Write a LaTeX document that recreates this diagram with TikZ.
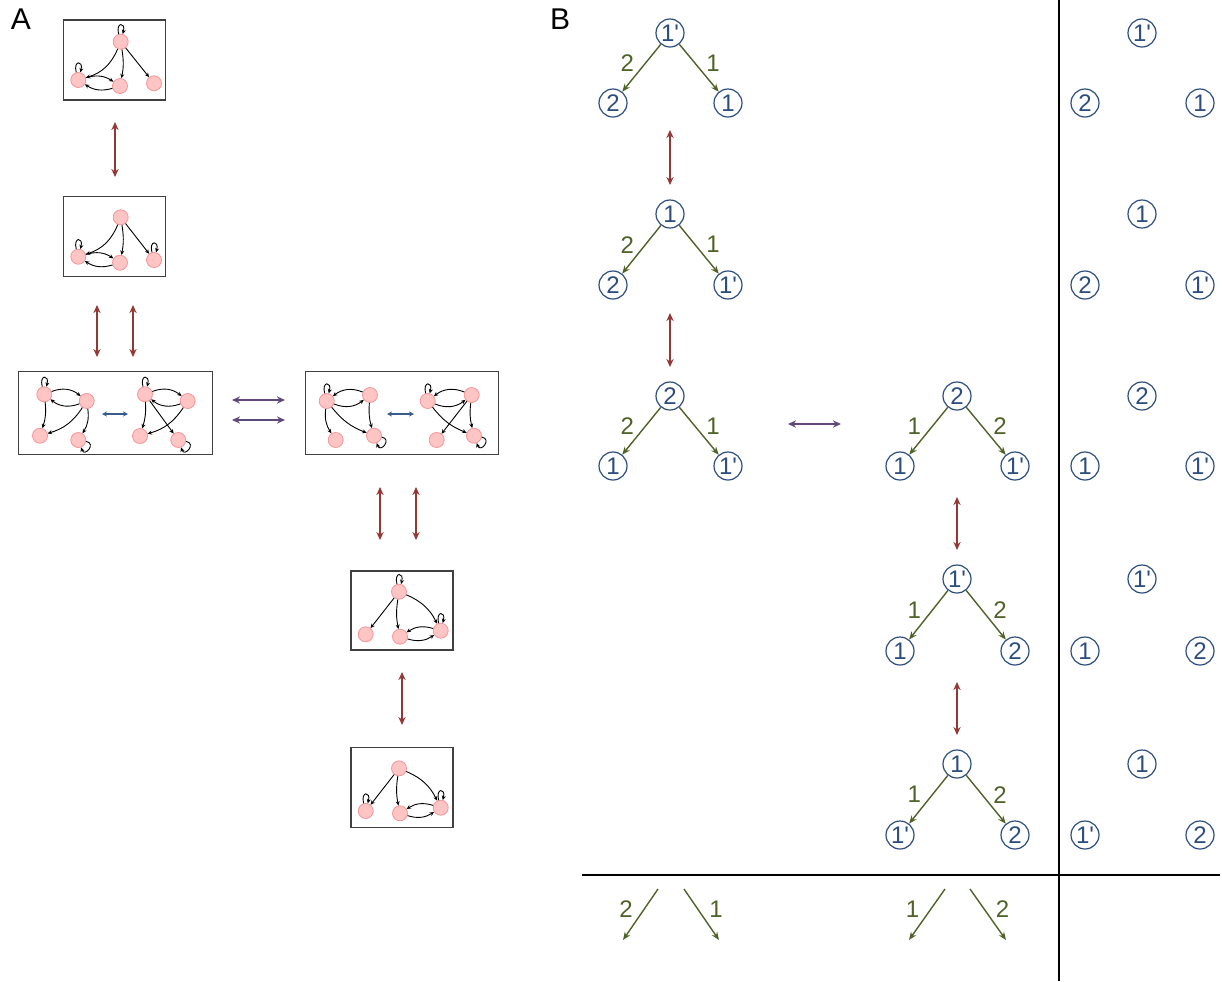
\documentclass[tikz,border=0pt]{standalone}
\usepackage{fontspec}
\setmainfont{Liberation Sans}
\usetikzlibrary{arrows.meta}
\definecolor{pinkfill}{HTML}{FFC4C4}
\definecolor{pinkline}{HTML}{F59595}
\definecolor{treeblue}{HTML}{2C4D7E}
\definecolor{treegreen}{HTML}{4F6228}
\definecolor{swapred}{HTML}{953735}
\definecolor{swappurple}{HTML}{5F497A}
\definecolor{minblue}{HTML}{3A5C8C}
\tikzset{
  gv/.style={circle, fill=pinkfill, draw=pinkline, line width=0.4pt, minimum size=7.5pt, inner sep=0pt},
  ge/.style={-{Stealth[length=2.2pt,width=2pt]}, line width=0.45pt},
  every loop/.style={min distance=5pt},
  sideloop/.style={loop, out=-10, in=-70, min distance=4pt, looseness=3.5},
  frame/.style={draw=black!75, line width=0.7pt},
  redswap/.style={{Stealth[length=4pt,width=3.6pt]}-{Stealth[length=4pt,width=3.6pt]}, draw=swapred, line width=1pt},
  purpleswap/.style={{Stealth[length=4pt,width=3.6pt]}-{Stealth[length=4pt,width=3.6pt]}, draw=swappurple, line width=1pt},
  miniswap/.style={{Stealth[length=2.5pt,width=2.5pt]}-{Stealth[length=2.5pt,width=2.5pt]}, draw=minblue, line width=0.6pt},
  tv/.style={circle, draw=treeblue, text=treeblue, line width=0.6pt, minimum size=14pt, inner sep=0pt, font=\fontsize{12}{12}\selectfont},
  te/.style={-{Stealth[length=4pt,width=3.2pt]}, draw=treegreen, line width=0.7pt},
  tl/.style={text=treegreen, font=\fontsize{12}{12}\selectfont, pos=0.4},
  panel/.style={font=\fontsize{15}{15}\selectfont}
}
\begin{document}
\begin{tikzpicture}[x=0.5pt, y=-0.5pt]
        \useasboundingbox (0,0) rectangle (1222,981);
        \node (labA) [panel] at (21,19) {A};
        \node (labB) [panel] at (560,19) {B};
        % panel A, first state
        \node (f1) [frame, minimum width=51pt, minimum height=40pt] at (114.5,60) {};
        \node (g1t) [gv] at (120.7,41.7) {};
        \node (g1l) [gv] at (78.3,80) {};
        \node (g1m) [gv] at (120,86) {};
        \node (g1r) [gv] at (154,83.3) {};
        \draw (g1t) edge [ge, loop above] (g1t);
        \draw (g1l) edge [ge, loop above] (g1l);
        \draw (g1t) edge [ge, bend left=25] (g1l);
        \draw (g1t) edge [ge, bend left=10] (g1m);
        \draw (g1t) edge [ge] (g1r);
        \draw (g1l) edge [ge, bend left=25] (g1m);
        \draw (g1m) edge [ge, bend left=25] (g1l);
        % second state
        \node (f2) [frame, minimum width=51pt, minimum height=40pt] at (114.5,236.5) {};
        \node (g2t) [gv] at (120.7,217.3) {};
        \node (g2l) [gv] at (78.3,256.7) {};
        \node (g2m) [gv] at (120,262.7) {};
        \node (g2r) [gv] at (154,260) {};
        \draw (g2l) edge [ge, loop above] (g2l);
        \draw (g2r) edge [ge, loop above] (g2r);
        \draw (g2t) edge [ge, bend left=25] (g2l);
        \draw (g2t) edge [ge, bend left=10] (g2m);
        \draw (g2t) edge [ge] (g2r);
        \draw (g2l) edge [ge, bend left=25] (g2m);
        \draw (g2m) edge [ge, bend left=25] (g2l);
        % third state, pair
        \node (f3) [frame, minimum width=97pt, minimum height=41.5pt] at (115.3,413) {};
        \node (g3a) [gv] at (44.3,394.3) {};
        \node (g3b) [gv] at (86.7,401) {};
        \node (g3c) [gv] at (40,435.7) {};
        \node (g3d) [gv] at (78.3,440) {};
        \draw (g3a) edge [ge, loop above] (g3a);
        \draw (g3a) edge [ge, bend left=30] (g3b);
        \draw (g3b) edge [ge, bend left=30] (g3a);
        \draw (g3a) edge [ge, bend left=12] (g3c);
        \draw (g3b) edge [ge, bend left=20] (g3c);
        \draw (g3b) edge [ge, bend left=20] (g3d);
        \draw (g3d) edge [ge, sideloop] (g3d);
        \node (g3e) [gv] at (145,394.3) {};
        \node (g3f) [gv] at (187.7,401) {};
        \node (g3g) [gv] at (140,436) {};
        \node (g3h) [gv] at (178.3,440) {};
        \draw (g3e) edge [ge, loop above] (g3e);
        \draw (g3e) edge [ge, bend left=30] (g3f);
        \draw (g3f) edge [ge, bend left=30] (g3e);
        \draw (g3e) edge [ge, bend left=10] (g3g);
        \draw (g3f) edge [ge, bend left=20] (g3g);
        \draw (g3e) edge [ge] (g3h);
        \draw (g3h) edge [ge, sideloop] (g3h);
        \coordinate (m1s) at (102,414);
        \coordinate (m1e) at (128,414);
        \draw (m1s) edge [miniswap] (m1e);
        % fourth state, pair
        \node (f4) [frame, minimum width=96.5pt, minimum height=41.5pt] at (402,413) {};
        \node (g4a) [gv] at (326.7,401) {};
        \node (g4b) [gv] at (370,395) {};
        \node (g4c) [gv] at (335.7,440) {};
        \node (g4d) [gv] at (374,435.7) {};
        \draw (g4a) edge [ge, loop above] (g4a);
        \draw (g4b) edge [ge, bend right=30] (g4a);
        \draw (g4a) edge [ge, bend right=30] (g4b);
        \draw (g4a) edge [ge, bend right=20] (g4c);
        \draw (g4a) edge [ge, bend right=15] (g4d);
        \draw (g4b) edge [ge, bend right=10] (g4d);
        \draw (g4d) edge [ge, sideloop] (g4d);
        \node (g4e) [gv] at (427.7,401) {};
        \node (g4f) [gv] at (471.7,395) {};
        \node (g4g) [gv] at (436.7,440) {};
        \node (g4h) [gv] at (474,435.7) {};
        \draw (g4e) edge [ge, loop above] (g4e);
        \draw (g4f) edge [ge, bend right=30] (g4e);
        \draw (g4e) edge [ge, bend right=30] (g4f);
        \draw (g4e) edge [ge, bend right=15] (g4h);
        \draw (g4f) edge [ge] (g4g);
        \draw (g4f) edge [ge, bend right=10] (g4h);
        \draw (g4h) edge [ge, sideloop] (g4h);
        \coordinate (m2s) at (387,414);
        \coordinate (m2e) at (414,414);
        \draw (m2s) edge [miniswap] (m2e);
        % fifth state
        \node (f5) [frame, minimum width=51pt, minimum height=39.5pt] at (402,610.5) {};
        \node (g5t) [gv] at (399,591.7) {};
        \node (g5l) [gv] at (365.7,634.3) {};
        \node (g5m) [gv] at (400,636.7) {};
        \node (g5r) [gv] at (440.7,630.7) {};
        \draw (g5t) edge [ge, loop above] (g5t);
        \draw (g5r) edge [ge, loop above] (g5r);
        \draw (g5t) edge [ge] (g5l);
        \draw (g5t) edge [ge, bend right=10] (g5m);
        \draw (g5t) edge [ge, bend left=20] (g5r);
        \draw (g5r) edge [ge, bend right=25] (g5m);
        \draw (g5m) edge [ge, bend right=25] (g5r);
        % sixth state
        \node (f6) [frame, minimum width=51pt, minimum height=40pt] at (402,787.3) {};
        \node (g6t) [gv] at (399,768.3) {};
        \node (g6l) [gv] at (365.7,811) {};
        \node (g6m) [gv] at (400,813.3) {};
        \node (g6r) [gv] at (440.7,807.7) {};
        \draw (g6l) edge [ge, loop above] (g6l);
        \draw (g6r) edge [ge, loop above] (g6r);
        \draw (g6t) edge [ge] (g6l);
        \draw (g6t) edge [ge, bend right=10] (g6m);
        \draw (g6t) edge [ge, bend left=20] (g6r);
        \draw (g6r) edge [ge, bend right=25] (g6m);
        \draw (g6m) edge [ge, bend right=25] (g6r);
        % moves between states
        \coordinate (s1a) at (115,122);   \coordinate (s1b) at (115,177);
        \coordinate (s2a) at (97,305);    \coordinate (s2b) at (97,357);
        \coordinate (s3a) at (133,305);   \coordinate (s3b) at (133,357);
        \coordinate (s4a) at (232,400);   \coordinate (s4b) at (285,400);
        \coordinate (s5a) at (232,420);   \coordinate (s5b) at (285,420);
        \coordinate (s6a) at (380,487);   \coordinate (s6b) at (380,540);
        \coordinate (s7a) at (416,487);   \coordinate (s7b) at (416,540);
        \coordinate (s8a) at (402,672);   \coordinate (s8b) at (402,725);
        \draw (s1a) edge [redswap] (s1b);
        \draw (s2a) edge [redswap] (s2b);
        \draw (s3a) edge [redswap] (s3b);
        \draw (s4a) edge [purpleswap] (s4b);
        \draw (s5a) edge [purpleswap] (s5b);
        \draw (s6a) edge [redswap] (s6b);
        \draw (s7a) edge [redswap] (s7b);
        \draw (s8a) edge [redswap] (s8b);
        % panel B, trees
        \node (p1) [tv] at (670,33) {1\textquotesingle};
        \node (a1) [tv] at (613,103) {2};
        \node (b1) [tv] at (728,103) {1};
        \draw (p1) edge [te] node [tl, left=2pt] {2} (a1);
        \draw (p1) edge [te] node [tl, right=2pt] {1} (b1);
        \node (p2) [tv] at (670,214) {1};
        \node (a2) [tv] at (613,285) {2};
        \node (b2) [tv] at (728,285) {1\textquotesingle};
        \draw (p2) edge [te] node [tl, left=2pt] {2} (a2);
        \draw (p2) edge [te] node [tl, right=2pt] {1} (b2);
        \node (p3) [tv] at (670,396) {2};
        \node (a3) [tv] at (613,466) {1};
        \node (b3) [tv] at (728,466) {1\textquotesingle};
        \draw (p3) edge [te] node [tl, left=2pt] {2} (a3);
        \draw (p3) edge [te] node [tl, right=2pt] {1} (b3);
        \node (p4) [tv] at (957,396) {2};
        \node (a4) [tv] at (900,466) {1};
        \node (b4) [tv] at (1015,466) {1\textquotesingle};
        \draw (p4) edge [te] node [tl, left=2pt] {1} (a4);
        \draw (p4) edge [te] node [tl, right=2pt] {2} (b4);
        \node (p5) [tv] at (957,579) {1\textquotesingle};
        \node (a5) [tv] at (900,651) {1};
        \node (b5) [tv] at (1015,651) {2};
        \draw (p5) edge [te] node [tl, left=2pt] {1} (a5);
        \draw (p5) edge [te] node [tl, right=2pt] {2} (b5);
        \node (p6) [tv] at (957,764) {1};
        \node (a6) [tv] at (900,835) {1\textquotesingle};
        \node (b6) [tv] at (1015,835) {2};
        \draw (p6) edge [te] node [tl, left=2pt] {1} (a6);
        \draw (p6) edge [te] node [tl, right=2pt] {2} (b6);
        % panel B, unordered column
        \node (q1) [tv] at (1142,33) {1\textquotesingle};
        \node (c1) [tv] at (1085,103) {2};
        \node (d1) [tv] at (1200,103) {1};
        \node (q2) [tv] at (1142,214) {1};
        \node (c2) [tv] at (1085,285) {2};
        \node (d2) [tv] at (1200,285) {1\textquotesingle};
        \node (q3) [tv] at (1142,396) {2};
        \node (c3) [tv] at (1085,466) {1};
        \node (d3) [tv] at (1200,466) {1\textquotesingle};
        \node (q4) [tv] at (1142,579) {1\textquotesingle};
        \node (c4) [tv] at (1085,651) {1};
        \node (d4) [tv] at (1200,651) {2};
        \node (q5) [tv] at (1142,764) {1};
        \node (c5) [tv] at (1085,835) {1\textquotesingle};
        \node (d5) [tv] at (1200,835) {2};
        % panel B, moves
        \coordinate (u1a) at (670,130);   \coordinate (u1b) at (670,185);
        \coordinate (u2a) at (670,313);   \coordinate (u2b) at (670,367);
        \coordinate (u3a) at (788,424);   \coordinate (u3b) at (841,424);
        \coordinate (u4a) at (957,497);   \coordinate (u4b) at (957,550);
        \coordinate (u5a) at (957,682);   \coordinate (u5b) at (957,735);
        \draw (u1a) edge [redswap] (u1b);
        \draw (u2a) edge [redswap] (u2b);
        \draw (u3a) edge [purpleswap] (u3b);
        \draw (u4a) edge [redswap] (u4b);
        \draw (u5a) edge [redswap] (u5b);
        % separators
        \coordinate (vtop) at (1059,0);   \coordinate (vbot) at (1059,981);
        \coordinate (hlft) at (582,875);  \coordinate (hrgt) at (1220,875);
        \draw (vtop) edge [line width=1pt] (vbot);
        \draw (hlft) edge [line width=1pt] (hrgt);
        % bottom row, edge labels alone
        \coordinate (k1a) at (658,889);   \coordinate (k1b) at (623,940);
        \coordinate (k2a) at (684,889);   \coordinate (k2b) at (719,940);
        \coordinate (k3a) at (945,889);   \coordinate (k3b) at (909,940);
        \coordinate (k4a) at (970,889);   \coordinate (k4b) at (1006,940);
        \draw (k1a) edge [te] node [tl, left=2pt] {2} (k1b);
        \draw (k2a) edge [te] node [tl, right=2pt] {1} (k2b);
        \draw (k3a) edge [te] node [tl, left=2pt] {1} (k3b);
        \draw (k4a) edge [te] node [tl, right=2pt] {2} (k4b);
\end{tikzpicture}
\end{document}
